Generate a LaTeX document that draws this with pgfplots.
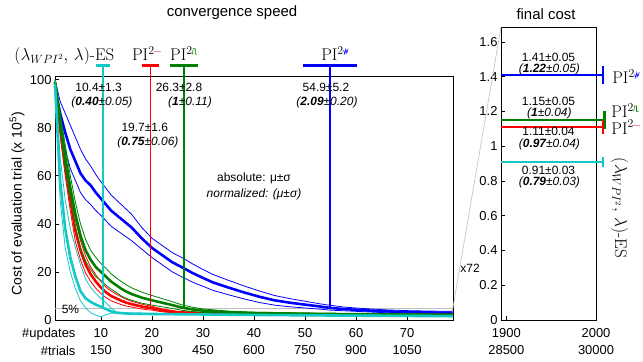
\documentclass[border=0pt]{standalone}
\usepackage{fontspec}
\setsansfont{Liberation Sans}
\usepackage{pgfplots}
\pgfplotsset{compat=1.18}
\definecolor{cyanc}{RGB}{20,200,200}
\definecolor{greenc}{RGB}{0,128,0}
\definecolor{bluec}{RGB}{0,0,255}
\definecolor{redc}{RGB}{255,0,0}
\newcommand{\anno}{\sffamily\fontsize{12}{13}\selectfont}
\newcommand{\lmbig}{\rmfamily\fontsize{17}{19}\selectfont}
\newcommand{\gpulse}{\tikz[baseline=0pt,x=1pt,y=1pt]\draw[greenc,line width=0.6pt] (0,0)--(0.8,5.5)--(2.8,5.5)--(2.8,0)--(4.8,0);}
\newcommand{\gwave}{\tikz[baseline=0pt,x=1pt,y=1pt]\draw[bluec,line width=0.6pt] (0,4)--(1.2,0)--(2.2,5)--(3.2,1)--(4.6,5.5);}
\newcommand{\gminus}{\textcolor{red!45}{\rule[2.5pt]{7pt}{0.8pt}}}
\newcommand{\PI}[1]{PI\textsuperscript{2#1}}
\newcommand{\ES}{$(\lambda_{WPI^2},\,\lambda)$-ES}
\begin{document}
\begin{tikzpicture}[font=\sffamily]
\useasboundingbox (0,0) rectangle (643bp,362bp);
\begin{axis}[
  at={(55bp,42bp)}, anchor=south west, scale only axis,
  width=398bp, height=244bp,
  xmin=1, xmax=79, ymin=0, ymax=101.5, clip=false,
  axis line style={line width=0.9pt},
  tick align=inside, xtick pos=bottom, ytick pos=left,
  major tick length=4bp, tick style={black, line width=0.6pt},
  xtick={10,20,30,40,50,60,70},
  xticklabels={{10\\150},{20\\300},{30\\450},{40\\600},{50\\750},{60\\900},{70\\1050}},
  xticklabel style={align=center, yshift=-5pt, font=\sffamily\fontsize{13}{17}\selectfont},
  ytick={0,20,40,60,80,100},
  yticklabel style={font=\sffamily\fontsize{13}{15}\selectfont},
  /pgf/number format/assume math mode=true,
]
% 5% line
\addplot[gray!50, line width=0.8pt] coordinates {(1,5) (79,5)};
% blue
\addplot[bluec, line width=0.8pt] coordinates {(1,100)(2,91)(3,86)(4,81)(5,76)(6,71)(7,67)(8,64)(9,60.5)(10,57.5)(12,52)(14,48)(16,44)(18,38.5)(20,34)(22,31)(24,28)(26,25.8)(28,23.3)(30,21)(32,18.9)(35,16.5)(38,14.2)(41,12.1)(44,10.2)(47,8.9)(50,7.8)(53,6.7)(55,6.1)(58,5.3)(62,4.7)(66,4.2)(70,3.9)(75,3.7)(79,3.6)};
\addplot[bluec, line width=0.8pt] coordinates {(1,94)(2,81)(3,71)(4,63)(5,58)(6,53)(7,50)(8,48)(9,45.5)(10,43.5)(12,39)(14,36)(16,33)(18,29.5)(20,26)(22,23)(24,20)(26,17.8)(28,15.7)(30,14)(32,12.3)(35,10.5)(38,8.8)(41,7.3)(44,6.2)(47,5.5)(50,5.0)(53,4.5)(55,4.1)(58,3.8)(62,3.4)(66,3.0)(70,2.8)(75,2.6)(79,2.5)};
\addplot[bluec, line width=2.6pt] coordinates {(1,97)(2,86)(3,78)(4,71)(5,66)(6,61)(7,58)(8,56)(9,53)(10,50.5)(12,45.5)(14,42)(16,38.5)(18,34)(20,30)(22,27)(24,24)(26,21.8)(28,19.5)(30,17.5)(32,15.6)(35,13.5)(38,11.5)(41,9.7)(44,8.2)(47,7.2)(50,6.4)(53,5.6)(55,5.0)(58,4.5)(62,4.0)(66,3.6)(70,3.3)(75,3.1)(79,3.0)};
% red
\addplot[redc, line width=0.8pt] coordinates {(1,100)(2,83)(3,68)(4,54.5)(5,41.5)(6,33)(7,26.5)(8,22)(9,18.8)(10,16)(11,13.7)(12,12)(13,10.8)(14,9.6)(15,8.6)(16,7.8)(17,7.2)(18,6.6)(19,6.1)(20,5.7)(22,4.6)(25,3.6)(30,3.1)(40,2.7)(60,2.35)(79,2.1)};
\addplot[redc, line width=0.8pt] coordinates {(1,98)(2,77)(3,60)(4,45.5)(5,32.5)(6,25)(7,19.5)(8,16)(9,13.2)(10,11)(11,9.3)(12,8)(13,7.2)(14,6.4)(15,5.8)(16,5.4)(17,5.0)(18,4.6)(19,4.3)(20,4.1)(22,3.4)(25,2.8)(30,2.5)(40,2.3)(60,2.05)(79,1.9)};
\addplot[redc, line width=2.6pt] coordinates {(1,99)(2,80)(3,64)(4,50)(5,37)(6,29)(7,23)(8,19)(9,16)(10,13.5)(11,11.5)(12,10)(13,9)(14,8)(15,7.2)(16,6.6)(17,6.1)(18,5.6)(19,5.2)(20,4.9)(22,4.0)(25,3.2)(30,2.8)(40,2.5)(60,2.2)(79,2.0)};
% green
\addplot[greenc, line width=0.8pt] coordinates {(1,100)(2,86)(3,73)(4,60)(5,49)(6,40)(7,33.5)(8,29)(9,26)(10,23.5)(11,21.5)(12,19.2)(13,17.5)(14,16)(15,14.6)(16,13.4)(18,11.6)(20,10.2)(22,8.9)(24,7.6)(26,6.2)(28,5.3)(30,4.6)(35,3.7)(40,3.25)(50,2.9)(60,2.65)(79,2.4)};
\addplot[greenc, line width=0.8pt] coordinates {(1,98)(2,80)(3,63)(4,50)(5,39)(6,30)(7,24.5)(8,21)(9,18)(10,16.5)(11,14.5)(12,12.8)(13,11.5)(14,10)(15,9)(16,8.2)(18,7)(20,6.2)(22,5.5)(24,4.8)(26,4.0)(28,3.5)(30,3.2)(35,2.7)(40,2.55)(50,2.3)(60,2.15)(79,2.0)};
\addplot[greenc, line width=2.6pt] coordinates {(1,99)(2,83)(3,68)(4,55)(5,44)(6,35)(7,29)(8,25)(9,22)(10,20)(11,18)(12,16)(13,14.5)(14,13)(15,11.8)(16,10.8)(18,9.3)(20,8.2)(22,7.2)(24,6.2)(26,5.1)(28,4.4)(30,3.9)(35,3.2)(40,2.9)(50,2.6)(60,2.4)(79,2.2)};
% cyan
\addplot[cyanc, line width=0.8pt] coordinates {(1,100)(2,68)(3,50)(4,38)(5,30)(6,23)(7,17)(8,13.5)(9,11)(10,9)(11,7.2)(12,5)(13,3.4)(15,2.9)(20,2.7)(40,2.3)(79,1.8)};
\addplot[cyanc, line width=0.8pt] coordinates {(1,96)(2,50)(3,30)(4,20)(5,13)(6,8)(7,5)(8,3)(9,2)(10,1.4)(11,2.2)(12,2.8)(13,2.8)(20,2.4)(40,2.0)(79,1.4)};
\addplot[cyanc, line width=2.6pt] coordinates {(1,98)(2,58)(3,38)(4,26)(5,18)(6,12)(7,9)(8,7.5)(9,6.4)(10,5.5)(11,4.5)(12,3.6)(13,3.0)(15,2.7)(20,2.5)(30,2.3)(40,2.1)(60,1.8)(79,1.6)};
% convergence markers
\addplot[cyanc, line width=2.6pt] coordinates {(9.1,105.8) (11.7,105.8)};
\addplot[cyanc, line width=1.3pt] coordinates {(10.4,105.8) (10.4,5)};
\addplot[redc, line width=2.6pt] coordinates {(18.1,105.8) (21.3,105.8)};
\addplot[redc, line width=1.3pt] coordinates {(19.7,105.8) (19.7,5)};
\addplot[greenc, line width=2.6pt] coordinates {(23.5,105.8) (29.1,105.8)};
\addplot[greenc, line width=1.3pt] coordinates {(26.3,105.8) (26.3,5)};
\addplot[bluec, line width=2.6pt] coordinates {(49.7,105.8) (60.1,105.8)};
\addplot[bluec, line width=1.3pt] coordinates {(54.9,105.8) (54.9,5)};
% labels
\node[anchor=base, font=\lmbig] at (axis cs:2.84,108) {\ES};
\node[anchor=base, font=\lmbig] at (axis cs:19.0,108) {\PI{\gminus}};
\node[anchor=base, font=\lmbig] at (axis cs:26.3,108) {\PI{\gpulse}};
\node[anchor=base, font=\lmbig] at (axis cs:55.9,108) {\PI{\gwave}};
\begin{scope}[every node/.style={font=\anno, inner sep=0.5pt}]
\node at (axis cs:9.55,96.7) {10.4±1.3};
\node at (axis cs:10.2,90.4) {\textit{(\textbf{0.40}±0.05)}};
\node at (axis cs:25.3,96.7) {26.3±2.8};
\node at (axis cs:27.45,90.4) {\textit{(\textbf{1}±0.11)}};
\node at (axis cs:18.6,80) {19.7±1.6};
\node at (axis cs:19.2,73.75) {\textit{(\textbf{0.75}±0.06)}};
\node at (axis cs:54.1,96.7) {54.9±5.2};
\node at (axis cs:54.3,90.4) {\textit{(\textbf{2.09}±0.20)}};
\node at (axis cs:40,58.75) {absolute: μ±σ};
\node at (axis cs:40,52.1) {\textit{normalized: (μ±σ)}};
\node[anchor=west] at (axis cs:2.2,4.4) {5\%};
\node at (axis cs:82.35,21.7) {x72};
\end{scope}
\end{axis}
\begin{axis}[
  at={(501bp,42bp)}, anchor=south west, scale only axis,
  width=95bp, height=293bp,
  xmin=1894, xmax=2000, ymin=0, ymax=1.686, clip=false,
  axis line style={line width=0.9pt},
  tick align=inside, xtick pos=bottom, ytick pos=left,
  major tick length=4bp, tick style={black, line width=0.6pt},
  xtick={1900,2000},
  xticklabels={{1900\\28500},{2000\\30000}},
  xticklabel style={align=center, yshift=-5pt, font=\sffamily\fontsize{13}{17}\selectfont},
  ytick={0,0.2,0.4,0.6,0.8,1,1.2,1.4,1.6},
  yticklabel style={font=\sffamily\fontsize{13}{15}\selectfont,
    /pgf/number format/fixed, /pgf/number format/precision=1},
  /pgf/number format/assume math mode=true,
]
\addplot[bluec, line width=2.2pt] coordinates {(1894,1.41) (2008,1.41)};
\addplot[bluec, line width=2.6pt] coordinates {(2008,1.36) (2008,1.46)};
\addplot[greenc, line width=2.2pt] coordinates {(1894,1.15) (2008,1.15)};
\addplot[greenc, line width=2.6pt] coordinates {(2009.5,1.10) (2009.5,1.20)};
\addplot[redc, line width=2.2pt] coordinates {(1894,1.11) (2008,1.11)};
\addplot[redc, line width=2.6pt] coordinates {(2008,1.07) (2008,1.15)};
\addplot[cyanc, line width=2.2pt] coordinates {(1894,0.91) (2008,0.91)};
\addplot[cyanc, line width=2.6pt] coordinates {(2008,0.88) (2008,0.94)};
\begin{scope}[every node/.style={font=\anno, inner sep=0pt}]
\node at (axis cs:1947,1.513) {1.41±0.05};
\node at (axis cs:1948,1.44) {\textit{(\textbf{1.22}±0.05)}};
\node at (axis cs:1947,1.26) {1.15±0.05};
\node at (axis cs:1948,1.188) {\textit{(\textbf{1}±0.04)}};
\node at (axis cs:1947,1.084) {1.11±0.04};
\node at (axis cs:1948,1.012) {\textit{(\textbf{0.97}±0.04)}};
\node at (axis cs:1947,0.862) {0.91±0.03};
\node at (axis cs:1948,0.79) {\textit{(\textbf{0.79}±0.03)}};
\end{scope}
\node[anchor=base west, inner sep=0pt, font=\lmbig] at (axis cs:2018,1.358) {\PI{\gwave}};
\node[anchor=base west, inner sep=0pt, font=\lmbig] at (axis cs:2017,1.165) {\PI{\gpulse}};
\node[anchor=base west, inner sep=0pt, font=\lmbig] at (axis cs:2017,1.07) {\PI{\gminus}};
\node[rotate=-90, font=\lmbig] at (axis cs:2026,0.645) {\ES};
\end{axis}
\draw[gray!50, line width=0.6pt] (452bp,49bp) -- (501bp,335bp);
\node[font=\sffamily\fontsize{15}{17}\selectfont] at (232bp,349bp) {convergence speed};
\node[font=\sffamily\fontsize{15}{17}\selectfont] at (546bp,348bp) {final cost};
\node[rotate=90, font=\sffamily\fontsize{14}{16}\selectfont] at (17bp,158bp) {Cost of evaluation trial (x 10\textsuperscript{5})};
\node[anchor=east, font=\sffamily\fontsize{13}{15}\selectfont] at (79bp,28bp) {\#updates};
\node[anchor=east, font=\sffamily\fontsize{13}{15}\selectfont] at (79bp,11bp) {\#trials};
\end{tikzpicture}
\end{document}
